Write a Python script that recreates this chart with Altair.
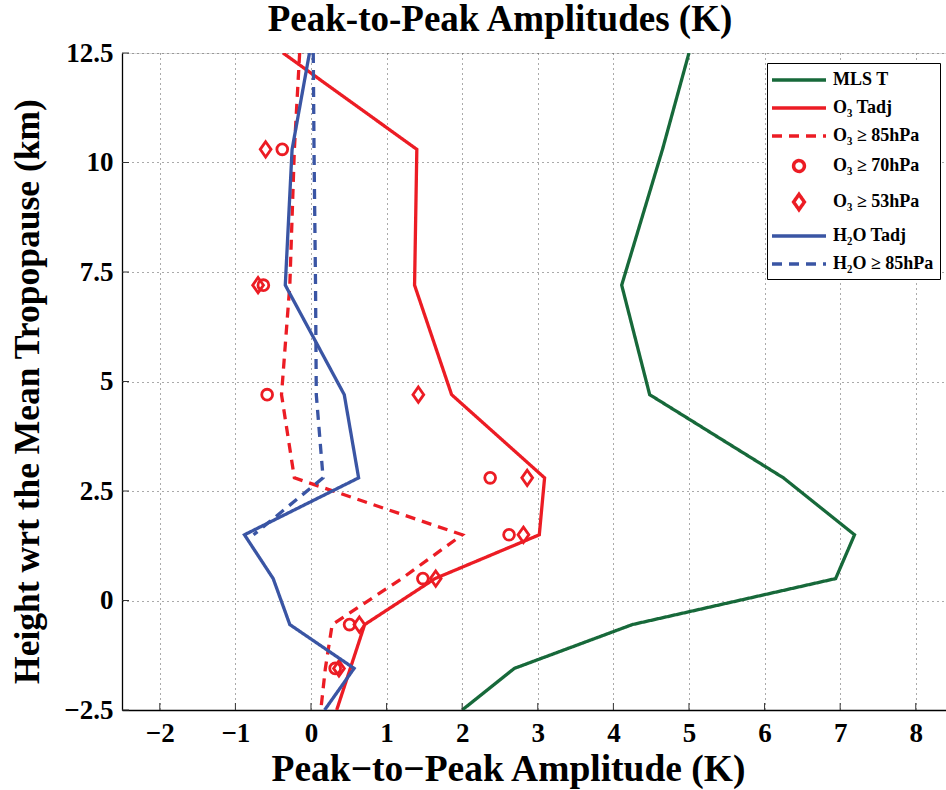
import altair as alt
import pandas as pd

# ---------------- data ----------------
heights = [12.5, 10.3, 7.2, 4.7, 2.8, 1.5, 0.5, -0.55, -1.55, -2.5]
mls_t = [5.0, 4.65, 4.11, 4.48, 6.25, 7.19, 6.94, 4.25, 2.69, 2.0]
o3_tadj = [-0.37, 1.40, 1.37, 1.86, 3.09, 3.02, 1.64, 0.71, 0.52, 0.34]
o3_85 = [-0.15, -0.22, -0.28, -0.39, -0.22, 2.0, 1.2, 0.28, 0.19, 0.13]
h2o_tadj = [-0.02, -0.25, -0.34, 0.44, 0.63, -0.88, -0.50, -0.28, 0.57, 0.18]
h2o_85 = [0.03, 0.04, 0.06, 0.07, 0.16, -0.76]

marker_heights = [10.3, 7.2, 4.7, 2.8, 1.5, 0.5, -0.55, -1.55]
o3_70 = [-0.38, -0.63, -0.58, 2.37, 2.62, 1.48, 0.51, 0.32]
o3_53 = [-0.60, -0.70, 1.42, 2.86, 2.81, 1.65, 0.64, 0.37]

series_names = ["MLS T", "O₃ Tadj", "O₃ ≥ 85hPa", "O₃ ≥ 70hPa",
                "O₃ ≥ 53hPa", "H₂O Tadj", "H₂O ≥ 85hPa"]
series_colors = ["#17693a", "#ec1c24", "#ec1c24", "#ec1c24",
                 "#ec1c24", "#3a55a4", "#3a55a4"]

x_ticks = list(range(-2, 9))
y_ticks = [-2.5, 0, 2.5, 5, 7.5, 10, 12.5]

TITLE = "Peak-to-Peak Amplitudes (K)"
XTITLE = "Peak\u2212to\u2212Peak Amplitude (K)"
YTITLE = "Height wrt the Mean Tropopause (km)"

# ---------------- tables ----------------
def rows(name, xs, hs):
    return [{"series": name, "k": i, "x": xv, "h": hv}
            for i, (xv, hv) in enumerate(zip(xs, hs))]

lines_front = pd.DataFrame(rows(series_names[0], mls_t, heights)
                           + rows(series_names[1], o3_tadj, heights)
                           + rows(series_names[2], o3_85, heights))
lines_back = pd.DataFrame(rows(series_names[5], h2o_tadj, heights)
                          + rows(series_names[6], h2o_85, heights[:len(h2o_85)]))
pts_df = pd.DataFrame(rows(series_names[3], o3_70, marker_heights)
                      + rows(series_names[4], o3_53, marker_heights))
xt_df = pd.DataFrame({"v": x_ticks})
yt_df = pd.DataFrame({"v": y_ticks})

FONT = "Liberation Serif"
W, H = 824, 657

xscale = alt.Scale(domain=[-2.5, 8.4], nice=False, zero=False)
yscale = alt.Scale(domain=[-2.5, 12.5], nice=False, zero=False)

GRID = dict(grid=True, gridDash=[1, 4], gridColor="#555", gridWidth=1,
            gridOpacity=1, ticks=False, labelFlush=False, labelOverlap=False,
            domainColor="black", domainWidth=1.3)

xaxis = alt.Axis(values=x_ticks, format="d", **GRID,
                 labelFont=FONT, labelFontSize=27, labelFontWeight="bold",
                 labelColor="black", labelPadding=10,
                 title=XTITLE, titleFont=FONT, titleFontSize=37.5,
                 titleFontWeight="bold", titleColor="black",
                 titleX=386, titleY=70, titleBaseline="alphabetic")
yaxis = alt.Axis(values=y_ticks, format=".1~f", **GRID,
                 labelFont=FONT, labelFontSize=27, labelFontWeight="bold",
                 labelColor="black", labelPadding=9,
                 title=YTITLE, titleFont=FONT, titleFontSize=35.5,
                 titleFontWeight="bold", titleColor="black",
                 titleX=-84, titleY=338, titleBaseline="alphabetic")

# legend / marker shapes (units of half the symbol size)
line_path = "M-3,0L3,0"
circle_path = "M0.6,0A0.6,0.6 0 1,1 -0.6,0A0.6,0.6 0 1,1 0.6,0"
diamond_path = "M0,-0.85L0.6,0L0,0.85L-0.6,0Z"
shape_range = [line_path, line_path, line_path, circle_path, diamond_path,
               line_path, line_path]
dash_range = [[1, 0], [1, 0], [10, 7], [1, 0], [1, 0], [1, 0], [10, 7]]

legend = alt.Legend(
    title=None, orient="none", legendX=645, legendY=10,
    strokeColor="black", fillColor="white", padding=6,
    labelFont=FONT, labelFontSize=18, labelFontWeight="bold",
    labelColor="black", labelOffset=23, rowPadding=8,
    symbolSize=324, symbolStrokeWidth=3.5, symbolOffset=15,
    symbolFillColor="transparent",
)

color = alt.Color("series:N",
                  scale=alt.Scale(domain=series_names, range=series_colors),
                  legend=legend)
shape = alt.Shape("series:N",
                  scale=alt.Scale(domain=series_names, range=shape_range),
                  legend=legend)
dash = alt.StrokeDash("series:N",
                      scale=alt.Scale(domain=series_names, range=dash_range),
                      legend=legend)

xenc = alt.X("x:Q", scale=xscale, axis=xaxis)
yenc = alt.Y("h:Q", scale=yscale, axis=yaxis)

points = alt.Chart(pts_df).mark_point(
    filled=False, size=324, strokeWidth=2.8, opacity=1).encode(
    x=xenc, y=yenc, color=color, shape=shape)

front = alt.Chart(lines_front).mark_line(strokeWidth=3.3, clip=True).encode(
    x=alt.X("x:Q", scale=xscale), y=alt.Y("h:Q", scale=yscale),
    color=color, strokeDash=dash, order="k:Q")

back = alt.Chart(lines_back).mark_line(strokeWidth=3.3, clip=True).encode(
    x=alt.X("x:Q", scale=xscale), y=alt.Y("h:Q", scale=yscale),
    color=color, strokeDash=dash, order="k:Q")

xticks = alt.Chart(xt_df).mark_rule(color="#333", strokeWidth=1).encode(
    x=alt.X("v:Q", scale=xscale), y=alt.value(H), y2=alt.value(H - 7))
yticks = alt.Chart(yt_df).mark_rule(color="#333", strokeWidth=1).encode(
    y=alt.Y("v:Q", scale=yscale), x=alt.value(0), x2=alt.value(7))

chart = alt.layer(points, front, back, xticks, yticks).properties(
    width=W, height=H,
    title=alt.TitleParams(TITLE, font=FONT, fontSize=37, fontWeight="bold",
                          color="black", anchor="middle", dx=-34, dy=38,
                          frame="group", baseline="alphabetic", offset=9),
    autosize=alt.AutoSizeParams(type="none"),
    padding={"left": 122, "top": 53, "right": 0, "bottom": 80},
).configure_view(strokeWidth=0).configure(background="white")

chart.save("out.html", embed_options={"renderer": "svg", "actions": False})
